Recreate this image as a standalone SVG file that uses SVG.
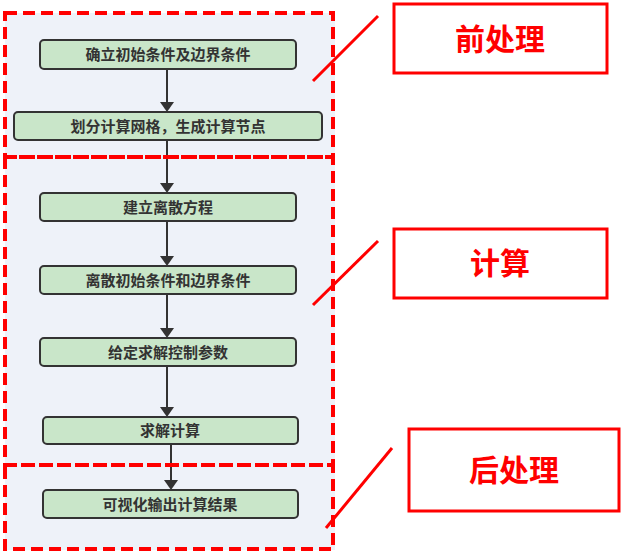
<svg xmlns="http://www.w3.org/2000/svg" width="622" height="553" viewBox="0 0 622 553">
<style>
.n{fill:#c9e6c9;stroke:#333;stroke-width:2}
.t{font-family:"Noto Sans CJK SC",sans-serif;font-size:15px;fill:#333;text-anchor:middle;font-weight:bold}
.d{fill:none;stroke:#f00;stroke-width:4;stroke-dasharray:12,6}
.lb{fill:#fff;stroke:#f00;stroke-width:3}
.lt{font-family:"Noto Sans CJK SC",sans-serif;font-size:30px;fill:#f00;text-anchor:middle;font-weight:bold}
.c{stroke:#333;stroke-width:2;fill:none}
.s{stroke:#f00;stroke-width:3}
</style>
<defs><marker id="a" markerWidth="10" markerHeight="14" refX="8" refY="7" orient="auto" markerUnits="userSpaceOnUse"><path d="M0,0 L10,7 L0,14 Z" fill="#333"/></marker></defs>
<rect x="5" y="13" width="330" height="537" fill="#eef2f9"/>
<g id="connectors">
<line class="c" x1="167" y1="69" x2="167" y2="110" marker-end="url(#a)"/>
<line class="c" x1="167" y1="140" x2="167" y2="191" marker-end="url(#a)"/>
<line class="c" x1="167" y1="221" x2="167" y2="264" marker-end="url(#a)"/>
<line class="c" x1="167" y1="294" x2="167" y2="336" marker-end="url(#a)"/>
<line class="c" x1="167" y1="366" x2="167" y2="415" marker-end="url(#a)"/>
<line class="c" x1="171" y1="444" x2="171" y2="488" marker-end="url(#a)"/>
</g>
<g id="n1"><rect class="n" x="40" y="40" width="256" height="29" rx="4"/><text class="t" x="168" y="60">确立初始条件及边界条件</text></g>
<g id="n2"><rect class="n" x="14" y="112" width="308" height="28" rx="4"/><text class="t" x="168" y="132">划分计算网格，生成计算节点</text></g>
<g id="n3"><rect class="n" x="40" y="193" width="256" height="28" rx="4"/><text class="t" x="168" y="213">建立离散方程</text></g>
<g id="n4"><rect class="n" x="40" y="266" width="256" height="28" rx="4"/><text class="t" x="168" y="286">离散初始条件和边界条件</text></g>
<g id="n5"><rect class="n" x="40" y="338" width="256" height="28" rx="4"/><text class="t" x="168" y="358">给定求解控制参数</text></g>
<g id="n6"><rect class="n" x="43" y="417" width="255" height="27" rx="4"/><text class="t" x="170" y="436">求解计算</text></g>
<g id="n7"><rect class="n" x="43" y="490" width="255" height="28" rx="4"/><text class="t" x="170" y="510">可视化输出计算结果</text></g>
<g id="groups">
<rect class="d" x="5" y="13" width="328" height="144"/>
<rect class="d" x="5" y="157" width="328" height="308"/>
<rect class="d" x="5" y="465" width="328" height="84"/>
</g>
<g id="labels">
<line class="s" x1="313" y1="81" x2="378" y2="16"/>
<line class="s" x1="313" y1="305" x2="378" y2="241"/>
<line class="s" x1="326" y1="528" x2="392" y2="448"/>
<rect class="lb" x="394" y="4" width="213" height="69"/><text class="lt" x="500" y="50">前处理</text>
<rect class="lb" x="394" y="229" width="213" height="69"/><text class="lt" x="500" y="274">计算</text>
<rect class="lb" x="409" y="429" width="210" height="82"/><text class="lt" x="514" y="481">后处理</text>
</g>
</svg>
